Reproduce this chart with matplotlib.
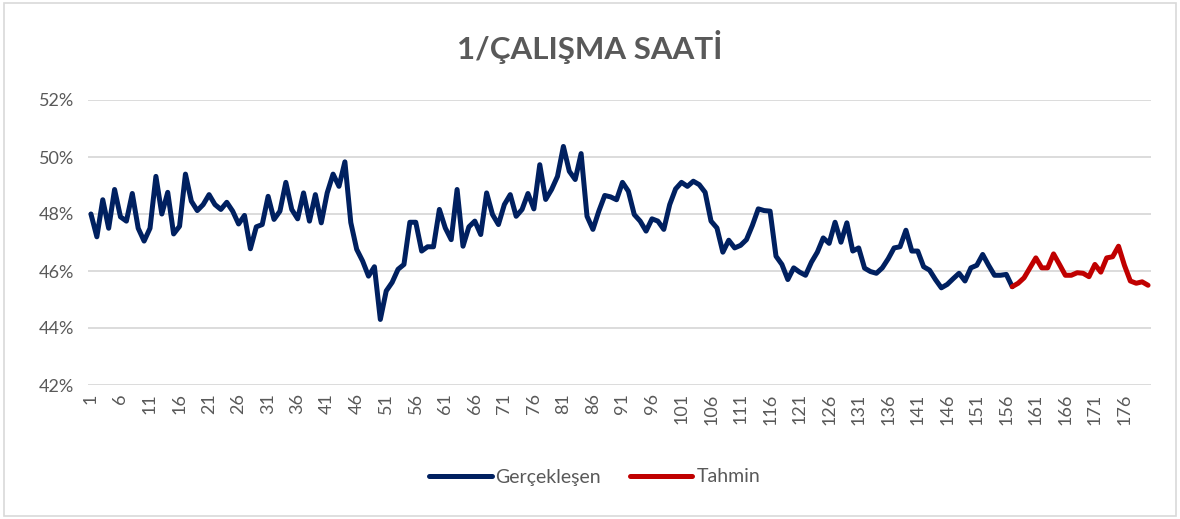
import matplotlib.pyplot as plt
from matplotlib.patches import Rectangle
from matplotlib.ticker import FuncFormatter

# observed values (%), periods 1..157
actual = [
    48.0, 47.2, 48.5, 47.5, 48.86, 47.9, 47.75, 48.72, 47.5, 47.05,
    47.5, 49.32, 48.0, 48.76, 47.3, 47.57, 49.4, 48.45, 48.12, 48.33,
    48.68, 48.33, 48.16, 48.41, 48.1, 47.65, 47.95, 46.78, 47.55, 47.63,
    48.62, 47.81, 48.1, 49.11, 48.16, 47.83, 48.74, 47.75, 48.68, 47.69,
    48.74, 49.4, 48.97, 49.83, 47.7, 46.76, 46.35, 45.82, 46.15, 44.3,
    45.3, 45.6, 46.06, 46.23, 47.71, 47.71, 46.7, 46.85, 46.85, 48.16,
    47.51, 47.1, 48.86, 46.87, 47.55, 47.75, 47.28, 48.74, 47.98, 47.63,
    48.33, 48.68, 47.92, 48.16, 48.72, 48.18, 49.73, 48.51, 48.86, 49.32,
    50.37, 49.5, 49.21, 50.12, 47.92, 47.46, 48.1, 48.65, 48.6, 48.5,
    49.11, 48.8, 47.98, 47.75, 47.4, 47.83, 47.75, 47.46, 48.33, 48.88,
    49.11, 48.97, 49.15, 49.03, 48.76, 47.75, 47.51, 46.66, 47.08, 46.81,
    46.9, 47.1, 47.6, 48.18, 48.12, 48.1, 46.52, 46.23, 45.7, 46.11,
    45.96, 45.85, 46.31, 46.66, 47.16, 46.97, 47.71, 47.01, 47.69, 46.7,
    46.81, 46.1, 45.98, 45.92, 46.11, 46.43, 46.81, 46.85, 47.43, 46.7,
    46.7, 46.15, 46.03, 45.7, 45.41, 45.53, 45.73, 45.92, 45.65, 46.11,
    46.2, 46.58, 46.2, 45.85, 45.85, 45.88, 45.45,
]
# forecast values (%), periods 157..180
forecast = [
    45.45, 45.57, 45.76, 46.11, 46.46, 46.11, 46.11, 46.6, 46.23, 45.85,
    45.85, 45.94, 45.92, 45.8, 46.23, 45.96, 46.46, 46.5, 46.87, 46.2,
    45.65, 45.57, 45.62, 45.5,
]
x_actual = list(range(1, len(actual) + 1))
x_forecast = list(range(len(actual), len(actual) + len(forecast)))
tick_pos = list(range(1, 180, 5))

plt.rcParams['font.family'] = ['Lato', 'DejaVu Sans']
gray = '#595959'

fig = plt.figure(figsize=(11.8, 5.19), dpi=100)
fig.patches.append(Rectangle((0.003, 0.005), 0.994, 0.99, transform=fig.transFigure,
                             fill=False, edgecolor='#D9D9D9', lw=1.2))
ax = fig.add_axes([88 / 1180, 1 - 385 / 519, (1151 - 88) / 1180, 285 / 519])

ax.plot(x_actual, actual, color='#002060', lw=3.6, label='Gerçekleşen', solid_capstyle='round')
ax.plot(x_forecast, forecast, color='#C00000', lw=3.6, label='Tahmin', solid_capstyle='round')

ax.set_xlim(0.5, 180.5)
ax.set_ylim(42, 52)
ax.set_yticks(range(42, 53, 2))
ax.yaxis.set_major_formatter(FuncFormatter(lambda v, p: f'{v:.0f}%'))
ax.set_xticks(tick_pos)
ax.set_xticklabels([str(t) for t in tick_pos], rotation=90)
ax.tick_params(axis='both', length=0, colors=gray, labelsize=13)
ax.tick_params(axis='y', pad=10)
ax.tick_params(axis='x', pad=6)
ax.grid(axis='y', color='#D9D9D9', lw=1.3)
ax.set_axisbelow(True)
for s in ax.spines.values():
    s.set_visible(False)

fig.text(0.5, 1 - 47 / 519, '1/ÇALIŞMA SAATİ', ha='center', va='center',
         fontsize=22.5, fontweight='bold', color=gray)
fig.legend(loc='center', bbox_to_anchor=(0.504, 1 - 477 / 519), ncol=2, frameon=False,
           fontsize=14, labelcolor=gray, handlelength=3.2, handletextpad=0.2, columnspacing=1.5)

fig.savefig('out.png', dpi=100)
